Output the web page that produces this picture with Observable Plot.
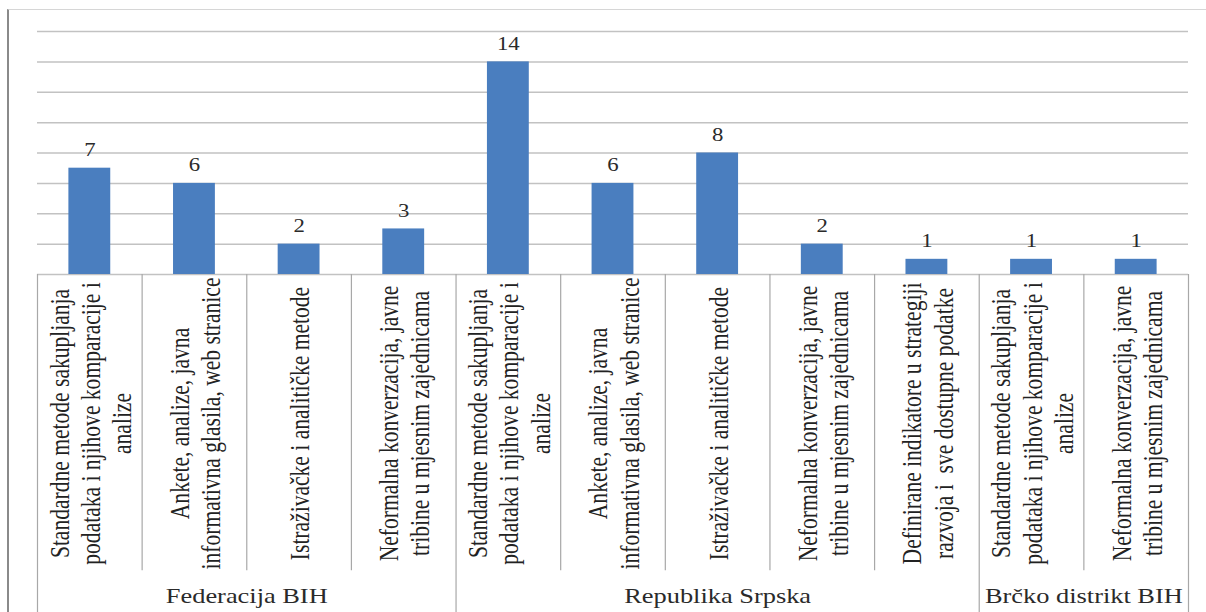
<!DOCTYPE html>
<html><head><meta charset="utf-8">
<script src="https://cdn.jsdelivr.net/npm/d3@7"></script>
<script src="https://cdn.jsdelivr.net/npm/@observablehq/plot@0.6"></script>
<style>
html,body{margin:0;padding:0;background:#fff;}
#wrap{position:relative;width:1206px;height:612px;overflow:hidden;}
#frame{position:absolute;left:7px;top:9px;right:-4px;bottom:-4px;border-left:2px solid #8a8a8a;border-top:1px solid #d6d6d6;pointer-events:none;}
</style></head><body>
<div id="wrap"><div id="chart"></div><div id="frame"></div></div>
<script>
const categories = [
  "Standardne metode sakupljanja\npodataka i njihove komparacije i\nanalize",
  "Ankete, analize, javna\ninformativna glasila, web stranice",
  "Istraživačke i analitičke metode",
  "Neformalna konverzacija, javne\ntribine u mjesnim zajednicama",
  "Standardne metode sakupljanja\npodataka i njihove komparacije i\nanalize",
  "Ankete, analize, javna\ninformativna glasila, web stranice",
  "Istraživačke i analitičke metode",
  "Neformalna konverzacija, javne\ntribine u mjesnim zajednicama",
  "Definirane indikatore u strategiji\nrazvoja i  sve dostupne podatke",
  "Standardne metode sakupljanja\npodataka i njihove komparacije i\nanalize",
  "Neformalna konverzacija, javne\ntribine u mjesnim zajednicama"
];
const values = [7, 6, 2, 3, 14, 6, 8, 2, 1, 1, 1];
const groups = ["Federacija BIH", "Republika Srpska", "Brčko distrikt BIH"];
const groupSizes = [4, 5, 2];
const gridTicks = [0, 2, 4, 6, 8, 10, 12, 14, 16];

const N = categories.length;
const data = categories.map((c, i) => ({i, label: c, value: values[i]}));
let acc = 0;
const groupData = groups.map((g, k) => {
  const start = acc; acc += groupSizes[k];
  return {name: g, start, end: acc, mid: (start + acc) / 2};
});
const groupBounds = [0, ...groupData.map(g => g.end)];
const innerBounds = d3.range(1, N).filter(b => !groupBounds.includes(b));
const serif = "Liberation Serif";

const plot = Plot.plot({
  width: 1206,
  height: 612,
  marginLeft: 37,
  marginRight: 18,
  marginTop: 31,
  marginBottom: 338,
  x: {type: "linear", domain: [0, N], axis: null},
  y: {domain: [0, 16], axis: null},
  style: {background: "transparent", fontFamily: serif},
  marks: [
    Plot.ruleY(gridTicks, {y: d => d, x1: 0, x2: N, stroke: "#c2c2c2", strokeWidth: 1.5}),
    Plot.rectY(data, {x1: d => d.i + 0.3, x2: d => d.i + 0.7, y1: 0, y2: "value", fill: "#4a7ebf"}),
    Plot.ruleX(innerBounds, {x: d => d, y1: 0, y2: -19.5, stroke: "#a8a8a8", strokeWidth: 1.2}),
    Plot.ruleX(groupBounds, {x: d => d, y1: 0, y2: -23, stroke: "#a8a8a8", strokeWidth: 1.2}),
    Plot.text(data, {x: d => d.i + 0.5, y: 0, dy: 149, text: "label", rotate: -90, fontSize: 28, fontFamily: serif, lineHeight: 1.12, fill: "#222"}),
    Plot.text(data, {x: d => d.i + 0.5, y: "value", dy: -12, lineAnchor: "bottom", text: d => String(d.value), fontSize: 19, fontFamily: serif, fill: "#2a2a2a"}),
    Plot.text(groupData, {x: "mid", y: 0, dy: 321, text: "name", fontSize: 22, fontFamily: serif, fill: "#2a2a2a"})
  ]
});
document.getElementById("chart").appendChild(plot);

function stretch(sel, sx, sy) {
  plot.querySelectorAll(sel).forEach(t => {
    const tr = t.getAttribute("transform");
    if (tr) {
      t.setAttribute("transform", tr + ` scale(${sx},${sy})`);
    } else {
      const x = +t.getAttribute("x") || 0, y = +t.getAttribute("y") || 0;
      t.removeAttribute("x"); t.removeAttribute("y");
      t.setAttribute("transform", `translate(${x},${y}) scale(${sx},${sy})`);
    }
  });
}
stretch('g[font-size="28"] > text', 0.77, 1);
stretch('g[font-size="19"] > text', 1.2, 1);
stretch('g[font-size="22"] > text', 1.2, 1);
</script>
</body></html>
